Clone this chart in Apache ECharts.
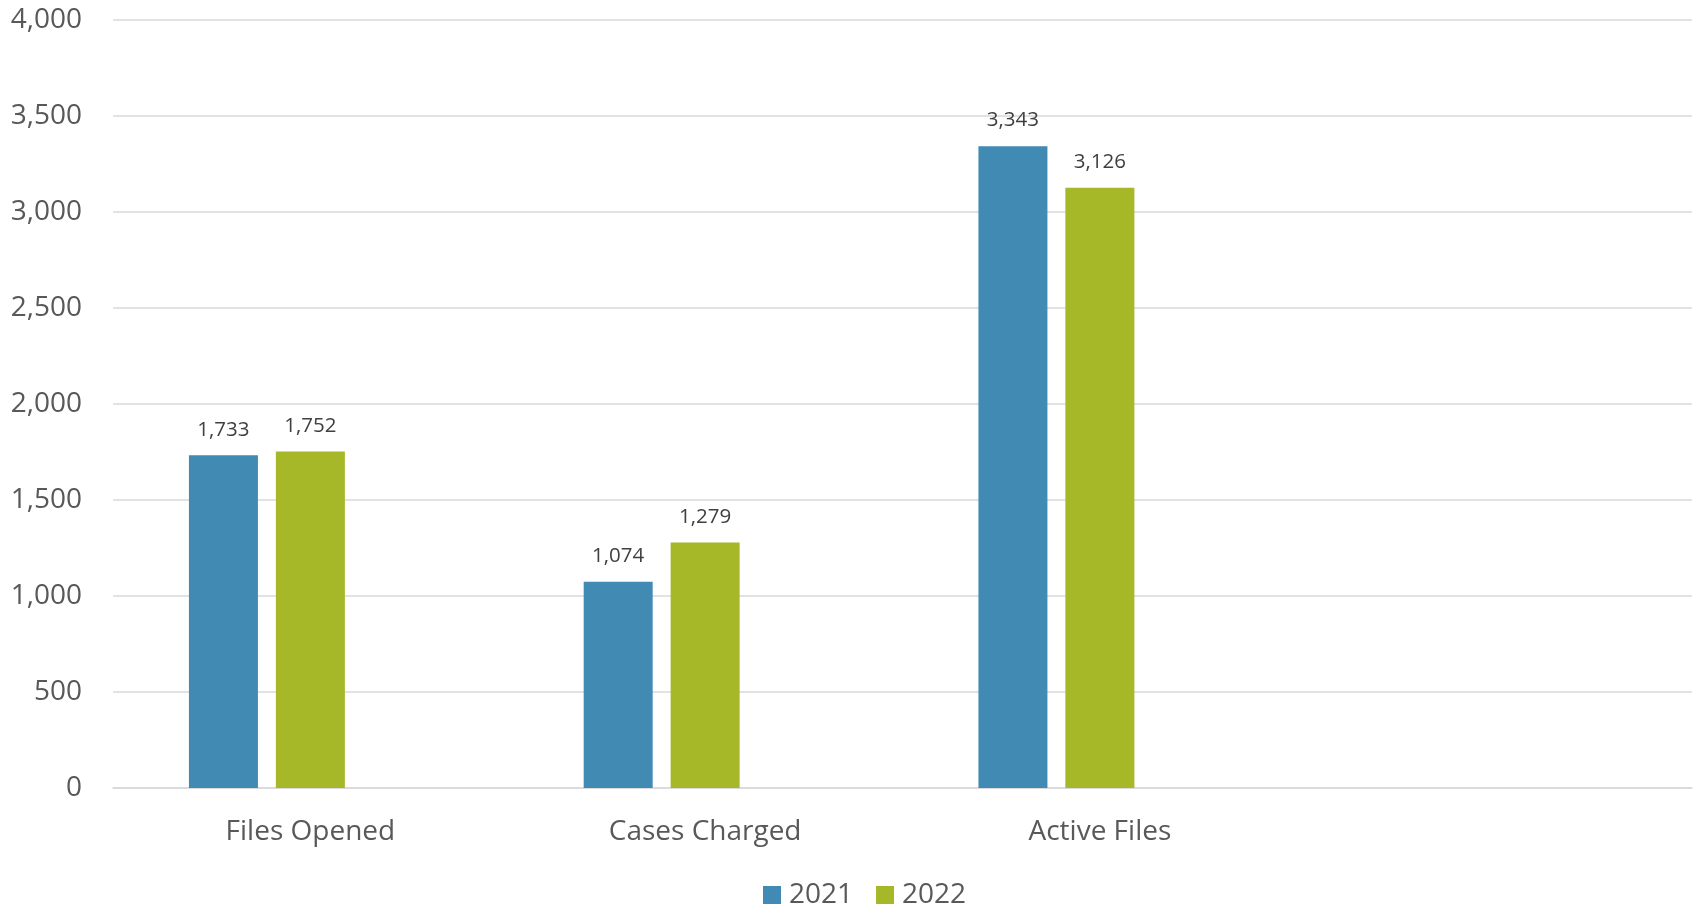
<!DOCTYPE html>
<html>
<head>
<meta charset="utf-8">
<script src="https://cdn.jsdelivr.net/npm/echarts@6/dist/echarts.min.js"></script>
<style>
html,body{margin:0;padding:0;background:#fff;}
#chart{width:1696px;height:909px;}
</style>
</head>
<body>
<div id="chart"></div>
<script>
const categories = ['Files Opened', 'Cases Charged', 'Active Files', ''];
const values2021 = [1733, 1074, 3343, null];
const values2022 = [1752, 1279, 3126, null];
const valuesEmpty = [null, null, null, null];
const seriesNames = ['2021', '2022'];
const yTicks = { min: 0, max: 4000, interval: 500 };

const chart = echarts.init(document.getElementById('chart'));
const fmt = v => v.toLocaleString('en-US');
const labelCfg = {
  show: true, position: 'top', distance: 15,
  fontFamily: 'Open Sans', fontSize: 20.5, color: '#404040',
  formatter: p => fmt(p.value)
};
chart.setOption({
  animation: false,
  backgroundColor: '#ffffff',
  grid: { left: 113, right: 4, top: 20, bottom: 121, containLabel: false },
  legend: {
    data: seriesNames,
    left: 758, top: 876,
    itemWidth: 18, itemHeight: 18, itemGap: 23,
    icon: 'rect',
    textStyle: { fontFamily: 'Open Sans', fontSize: 28, color: '#595959', lineHeight: 28, padding: [0, 0, 0, 3] }
  },
  xAxis: {
    type: 'category',
    data: categories,
    axisLine: { show: true, lineStyle: { color: '#d9d9d9', width: 1.5 } },
    axisTick: { show: false },
    axisLabel: { fontFamily: 'Open Sans', fontSize: 28, color: '#595959', margin: 30, lineHeight: 28, interval: 0 }
  },
  yAxis: {
    type: 'value',
    min: yTicks.min, max: yTicks.max, interval: yTicks.interval,
    axisLine: { show: false },
    axisTick: { show: false },
    splitLine: { lineStyle: { color: '#d9d9d9', width: 1.5 } },
    axisLabel: { fontFamily: 'Open Sans', fontSize: 28, color: '#595959', margin: 31, formatter: v => fmt(v) }
  },
  series: [
    { name: seriesNames[0], type: 'bar', data: values2021, barWidth: 69, barGap: '26%',
      itemStyle: { color: '#418AB3' }, label: labelCfg },
    { name: seriesNames[1], type: 'bar', data: values2022, barWidth: 69, barGap: '26%',
      itemStyle: { color: '#A6B727' }, label: labelCfg },
    { name: 'empty', type: 'bar', data: valuesEmpty, barWidth: 69, barGap: '26%',
      itemStyle: { color: '#738AC8' } }
  ]
});
</script>
</body>
</html>
